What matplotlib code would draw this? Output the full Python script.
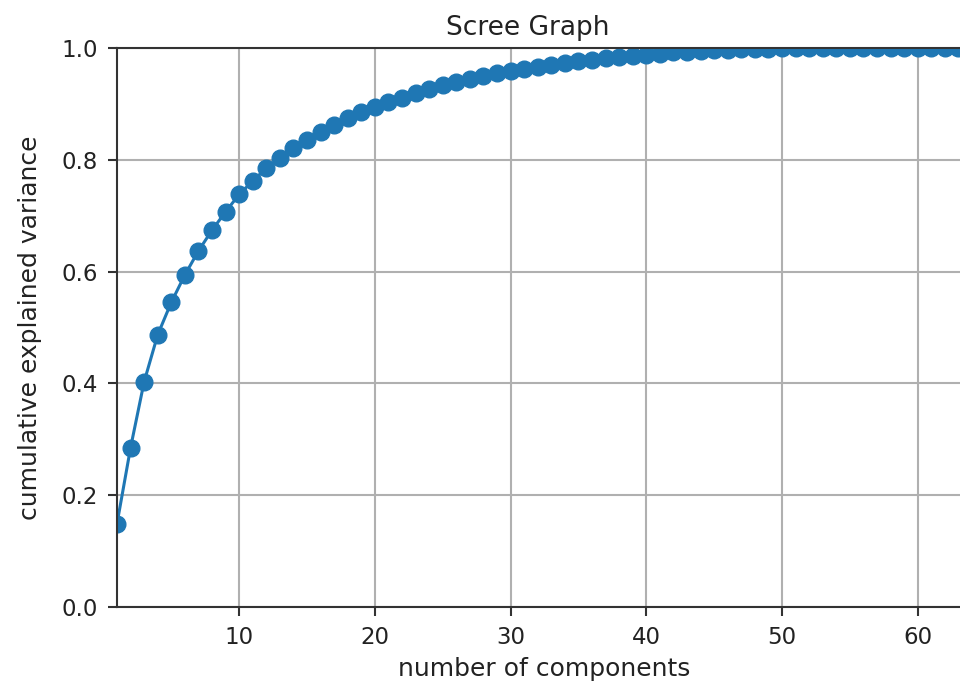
import numpy as np
import matplotlib
matplotlib.use("Agg")
from matplotlib import pyplot as plt

# cumulative explained variance of the PCA on the 64 pixel features
n_components = np.arange(1, 65)
cum_variance = [0.149, 0.285, 0.403, 0.487, 0.545, 0.594, 0.637, 0.674,
                0.707, 0.738, 0.762, 0.785, 0.803, 0.821, 0.835, 0.849,
                0.863, 0.875, 0.885, 0.894, 0.903, 0.911, 0.919, 0.926,
                0.933, 0.939, 0.945, 0.950, 0.955, 0.959, 0.963, 0.966,
                0.970, 0.973, 0.976, 0.979, 0.982, 0.984, 0.986, 0.988,
                0.990, 0.992, 0.993, 0.995, 0.996, 0.997, 0.998, 0.999,
                0.999, 1.000, 1.000, 1.000, 1.000, 1.000, 1.000, 1.000,
                1.000, 1.000, 1.000, 1.000, 1.000, 1.000, 1.000, 1.000]

plt.rcParams['font.family'] = 'DejaVu Sans'

fig = plt.figure(figsize=(9.6, 6.89), dpi=100)
# axes runs a little past the right edge of the figure
ax = fig.add_axes([117/960, 82/689, (972-117)/960, (607-48)/689])

ax.plot(n_components, cum_variance, '-o', color='#1f77b4',
        linewidth=2.2, markersize=12)

ax.set_xlim(1, 64)
ax.set_ylim(0, 1.0)
ax.set_xticks([10, 20, 30, 40, 50, 60])
ax.set_yticks([0.0, 0.2, 0.4, 0.6, 0.8, 1.0])
ax.grid(True, color='#b0b0b0', linewidth=1.5)
ax.set_axisbelow(True)

for s in ax.spines.values():
    s.set_linewidth(1.5)
    s.set_color('#333333')
ax.tick_params(labelsize=16.5, width=1.5, length=6.5, pad=7,
               colors='#333333', labelcolor='#222222')

ax.set_title('Scree Graph', fontsize=19, pad=9, x=0.48, color='#222222')
ax.set_xlabel('number of components', fontsize=18, labelpad=6, color='#222222')
ax.set_ylabel('cumulative explained variance', fontsize=18, labelpad=14,
              color='#222222')

fig.savefig('out.png', dpi=100)
